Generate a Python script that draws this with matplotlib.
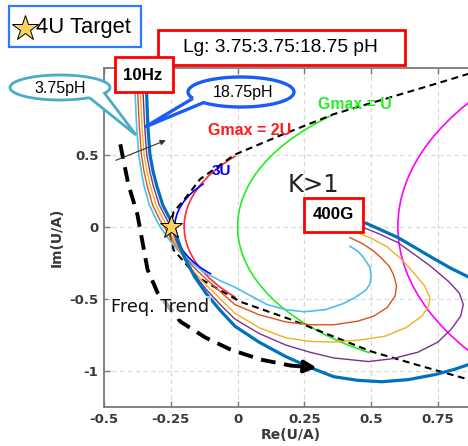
import matplotlib
matplotlib.use("Agg")
import matplotlib.pyplot as plt
import numpy as np
from matplotlib.patches import Arc, Rectangle, PathPatch, FancyArrowPatch
from matplotlib.path import Path
from matplotlib.transforms import Affine2D

# ---------------- data ----------------
# K = 1 boundary
k1_re = [0.90, 0.75, 0.50, 0.36, 0.17, -0.01, -0.14, -0.19, -0.24, -0.255,
         -0.24, -0.15, 0.01, 0.20, 0.35, 0.50, 0.70, 0.866, 0.90]
k1_im = [1.08, 0.995, 0.857, 0.78, 0.64, 0.50, 0.33, 0.21, 0.10, -0.03,
         -0.16, -0.35, -0.52, -0.644, -0.755, -0.865, -0.973, -1.06, -1.08]

# constant-Gmax circles (centre on the real axis, radius, drawn arc span)
gmax_names = ["U", "2U", "3U", "0.5U"]
gmax_center = [1.02, 0.52, 0.23, 2.13]
gmax_radius = [1.02, 0.72, 0.465, 1.53]
gmax_theta1 = [131, 137, 140, 0]
gmax_theta2 = [239, 223, 225, 360]
gmax_colors = ["#22ee22", "#ff2a3a", "#0000ff", "#ff00ff"]

# U/A traces, 10 Hz -> 400 GHz, for Lg = 3.75 : 3.75 : 18.75 pH
lg_values = [3.75, 7.5, 11.25, 15.0, 18.75]
tr_re = [
    [-0.388, -0.383, -0.378, -0.37, -0.36, -0.35, -0.33, -0.305, -0.29, -0.26, -0.225, -0.18,
     -0.13, -0.07, -0.01, 0.05, 0.11, 0.18, 0.25, 0.33, 0.40, 0.44, 0.48, 0.495, 0.50, 0.495,
     0.47, 0.45, 0.42],
    [-0.378, -0.373, -0.368, -0.36, -0.35, -0.338, -0.318, -0.292, -0.275, -0.25, -0.215, -0.17,
     -0.12, -0.065, -0.01, 0.08, 0.18, 0.27, 0.36, 0.45, 0.51, 0.56, 0.59, 0.595, 0.585, 0.57,
     0.54, 0.51, 0.47, 0.42],
    [-0.368, -0.363, -0.358, -0.35, -0.339, -0.326, -0.305, -0.278, -0.262, -0.24, -0.21, -0.17,
     -0.12, -0.065, -0.01, 0.08, 0.18, 0.27, 0.36, 0.46, 0.55, 0.63, 0.69, 0.715, 0.72, 0.70,
     0.65, 0.61, 0.56, 0.50, 0.44],
    [-0.358, -0.353, -0.348, -0.34, -0.328, -0.315, -0.293, -0.265, -0.25, -0.232, -0.205, -0.165,
     -0.12, -0.065, -0.01, 0.08, 0.18, 0.27, 0.36, 0.49, 0.58, 0.675, 0.75, 0.80, 0.835, 0.845,
     0.83, 0.79, 0.72, 0.66, 0.60, 0.53, 0.47],
    [-0.345, -0.34, -0.336, -0.328, -0.316, -0.302, -0.28, -0.252, -0.238, -0.222, -0.197, -0.16,
     -0.115, -0.065, -0.01, 0.08, 0.18, 0.27, 0.36, 0.45, 0.54, 0.64, 0.74, 0.81, 0.866, 0.92,
     0.97, 0.99, 0.97, 0.92, 0.866, 0.80, 0.724, 0.66, 0.60, 0.54, 0.48],
]
tr_im = [
    [1.15, 0.9, 0.7, 0.5, 0.38, 0.28, 0.15, 0.05, 0.0, -0.08, -0.16, -0.24, -0.31, -0.37, -0.42,
     -0.48, -0.54, -0.575, -0.59, -0.575, -0.53, -0.49, -0.44, -0.40, -0.345, -0.28, -0.21,
     -0.17, -0.135],
    [1.15, 0.9, 0.7, 0.5, 0.38, 0.28, 0.15, 0.05, 0.0, -0.08, -0.17, -0.27, -0.36, -0.45, -0.54,
     -0.61, -0.66, -0.68, -0.68, -0.655, -0.62, -0.56, -0.48, -0.41, -0.34, -0.28, -0.22, -0.17,
     -0.12, -0.075],
    [1.15, 0.9, 0.7, 0.5, 0.38, 0.28, 0.15, 0.05, 0.0, -0.09, -0.19, -0.30, -0.40, -0.50, -0.60,
     -0.70, -0.77, -0.795, -0.80, -0.785, -0.76, -0.70, -0.62, -0.55, -0.49, -0.41, -0.30, -0.22,
     -0.14, -0.08, -0.035],
    [1.15, 0.9, 0.7, 0.5, 0.38, 0.28, 0.15, 0.05, 0.0, -0.09, -0.20, -0.32, -0.43, -0.54, -0.64,
     -0.74, -0.82, -0.87, -0.91, -0.935, -0.915, -0.87, -0.80, -0.71, -0.62, -0.54, -0.46, -0.38,
     -0.27, -0.19, -0.11, -0.05, -0.005],
    [1.15, 0.9, 0.7, 0.5, 0.38, 0.28, 0.15, 0.05, 0.0, -0.10, -0.22, -0.35, -0.47, -0.58, -0.69,
     -0.80, -0.90, -0.975, -1.04, -1.065, -1.075, -1.06, -1.025, -0.99, -0.955, -0.90, -0.78,
     -0.62, -0.48, -0.40, -0.35, -0.29, -0.21, -0.14, -0.075, -0.025, 0.025],
]
tr_colors = ["#4dbeee", "#d95319", "#edb120", "#7e2f8e", "#0072bd"]
tr_widths = [1.2, 1.0, 1.0, 1.0, 2.3]

# target point
target_re, target_im = -0.25, 0.0

# frequency-trend guide
trend_re = [-0.439, -0.409, -0.375, -0.337, -0.30, -0.214, -0.12, -0.026, 0.086, 0.199, 0.296]
trend_im = [0.571, 0.294, 0.085, -0.297, -0.456, -0.658, -0.769, -0.852, -0.921, -0.963, -0.977]

xticks = [-0.5, -0.25, 0, 0.25, 0.5, 0.75]
xtick_labels = ["-0.5", "-0.25", "0", "0.25", "0.5", "0.75"]
yticks = [-1, -0.5, 0, 0.5]
ytick_labels = ["-1", "-0.5", "0", "0.5"]

# ---------------- figure ----------------
W, H = 468, 446
fig = plt.figure(figsize=(W / 100, H / 100), dpi=100)
# pixel coordinates measured from the top-left corner
PX = Affine2D().scale(1 / W, -1 / H).translate(0, 1) + fig.transFigure

ax = fig.add_axes([104 / W, 1 - 407 / H, 374 / W, 339 / H])
ax.set_xlim(-0.5, 0.9)
ax.set_ylim(-1.25, 1.1)
ax.set_xticks(xticks)
ax.set_xticklabels(xtick_labels)
ax.set_yticks(yticks)
ax.set_yticklabels(ytick_labels)
ax.grid(True, ls=(0, (4, 3)), color="#d6d6d6", lw=0.8)
ax.set_axisbelow(True)
for s in ax.spines.values():
    s.set_color("#7a7a7a")
    s.set_linewidth(1.3)
ax.tick_params(direction="in", top=True, right=True, length=4, width=1,
               color="#7a7a7a", labelsize=9.5, labelcolor="#3a3a3a", pad=4)
for lab in ax.get_xticklabels() + ax.get_yticklabels():
    lab.set_fontweight("bold")
ax.set_xlabel("Re(U/A)", fontsize=10, fontweight="bold", color="#3a3a3a", labelpad=2)
ax.set_ylabel("Im(U/A)", fontsize=10, fontweight="bold", color="#3a3a3a", labelpad=4)

# Gmax circles
for c, r, t1, t2, col in zip(gmax_center, gmax_radius, gmax_theta1, gmax_theta2, gmax_colors):
    ax.add_patch(Arc((c, 0), 2 * r, 2 * r, theta1=t1, theta2=t2, color=col, lw=1.2, zorder=3))

# K = 1 boundary
ax.plot(k1_re, k1_im, color="black", lw=1.5, ls=(0, (3.3, 2.2)), zorder=4)

# traces
for xs, ys, col, lw in zip(tr_re, tr_im, tr_colors, tr_widths):
    ax.plot(xs, ys, color=col, lw=lw, zorder=5, solid_capstyle="round",
            solid_joinstyle="round")

# target star
ax.plot([target_re], [target_im], marker="*", ms=17, color="#fcd25a",
        mec="black", mew=0.7, zorder=7, ls="none")

sans = ["Liberation Sans", "DejaVu Sans"]

# region / curve labels
ax.text(0.30, 0.85, "Gmax = U", color="#22ee22", fontsize=11.4, fontweight="bold",
        family=sans, va="center", ha="left", zorder=8)
ax.text(-0.112, 0.665, "Gmax = 2U", color="#ff1a1a", fontsize=11.5, fontweight="bold",
        family=sans, va="center", ha="left", zorder=8)
ax.text(-0.097, 0.385, "3U", color="#0000ee", fontsize=11, fontweight="bold",
        family=sans, va="center", ha="left", zorder=8)
ax.text(0.188, 0.287, "K>1", color="#222222", fontsize=17.5, va="center", ha="left", zorder=8)

# frequency trend guide
ax.plot(trend_re[:-1], trend_im[:-1], color="black", lw=2.8, ls=(0, (3.8, 2.2)), zorder=6)
ax.add_patch(FancyArrowPatch((trend_re[-2], trend_im[-2]), (trend_re[-1], trend_im[-1]),
                             arrowstyle="-|>", mutation_scale=18, color="black", lw=2.8,
                             zorder=6, shrinkA=0, shrinkB=0))
ax.text(-0.475, -0.56, "Freq. Trend", fontsize=12.7, color="#111111", va="center", ha="left",
        zorder=9, bbox=dict(boxstyle="square,pad=0.15", fc="white", ec="none", alpha=0.65))

# thin direction arrow
ax.annotate("", xy=(-0.259, 0.606), xytext=(-0.465, 0.453),
            arrowprops=dict(arrowstyle="-|>", color="#333333", lw=0.8, mutation_scale=8),
            zorder=6)


# ---------------- annotation boxes ----------------
def box(x0, y0, x1, y1, ec, lw):
    fig.add_artist(Rectangle((x0, y0), x1 - x0, y1 - y0, transform=PX, fc="white",
                             ec=ec, lw=lw, zorder=20))


def callout(cx, cy, a, b, t_gap0, t_gap1, tip, ec, lw):
    t = np.deg2rad(np.linspace(t_gap1, t_gap0 + 360, 120))
    pts = np.column_stack([cx + a * np.cos(t), cy + b * np.sin(t)])
    pts = np.vstack([pts, tip, pts[:1]])
    fig.add_artist(PathPatch(Path(pts, closed=False), transform=PX, fc="white", ec=ec,
                             lw=lw, zorder=20, joinstyle="miter"))


# "4U Target" key
box(9, 6, 141, 47, "#2f7bff", 1.6)
fig.add_artist(plt.Line2D([25], [28], transform=PX, marker="*", ms=19, color="#fcd25a",
                          mec="black", mew=0.7, ls="none", zorder=21))
fig.text(36 / W, 1 - 28 / H, "4U Target", fontsize=15.8, family=sans, va="center",
         ha="left", zorder=21)

# Lg sweep box
box(158, 30, 405, 65, "#ff0000", 2.0)
fig.text(280 / W, 1 - 47 / H, "Lg: 3.75:3.75:18.75 pH", fontsize=13.8, family=sans,
         va="center", ha="center", zorder=21)

# start / stop frequency boxes
box(115, 57, 173, 92, "#ff0000", 2.0)
fig.text(143 / W, 1 - 75 / H, "10Hz", fontsize=12.2, fontweight="bold", family=sans,
         va="center", ha="center", zorder=21)
box(304, 198, 363, 232, "#ff0000", 2.0)
fig.text(333 / W, 1 - 215 / H, "400G", fontsize=12.2, fontweight="bold", family=sans,
         va="center", ha="center", zorder=21)

# inductance callouts
callout(60, 87.5, 50, 12.5, 27, 54, (136, 135), "#4bacc6", 2.0)
fig.text(60 / W, 1 - 88 / H, "3.75pH", fontsize=11.5, family=sans, va="center",
         ha="center", zorder=21)
callout(241, 92, 53, 15, 135, 155, (145, 127), "#1a5cf5", 2.4)
fig.text(243 / W, 1 - 92 / H, "18.75pH", fontsize=11.5, family=sans, va="center",
         ha="center", zorder=21)

fig.savefig("out.png", dpi=100)
